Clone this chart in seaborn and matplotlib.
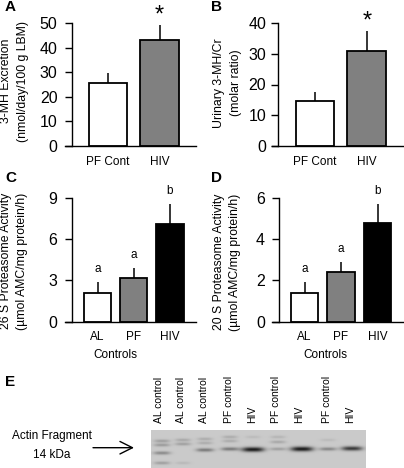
import numpy as np
import pandas as pd
import matplotlib
matplotlib.use("Agg")
import matplotlib.pyplot as plt
import seaborn as sns

W, H = 404, 468

# panel data
cats_ab = ["PF Cont", "HIV"]
cats_cd = ["AL", "PF", "HIV"]
colors_ab = ["white", "#808080"]
colors_cd = ["white", "#808080", "black"]

vals_a = [25.5, 43]
err_a = [4, 6]
vals_b = [14.5, 31]
err_b = [3.2, 6.3]
vals_c = [2.1, 3.2, 7.1]
err_c = [0.75, 0.7, 1.45]
vals_d = [1.4, 2.4, 4.8]
err_d = [0.52, 0.5, 0.9]

ticks_a = [0, 10, 20, 30, 40, 50]
ticks_b = [0, 10, 20, 30, 40]
ticks_c = [0, 3, 6, 9]
ticks_d = [0, 2, 4, 6]

letters_ab = ["", "*"]
letters_cd = ["a", "a", "b"]

# blot data
lane_labels = ["AL control", "AL control", "AL control", "PF control", "HIV",
               "PF control", "HIV", "PF control", "HIV"]
lane_label_px = [159, 181, 204, 229, 252, 276, 299, 327, 350]
lane_px = [162, 183, 205, 230, 253, 278, 302, 328, 352]
band_lane = [0, 0, 0, 0, 1, 1, 1, 2, 2, 2, 3, 3, 3, 4, 4, 5, 5, 5, 6, 7, 7, 8]
band_y = [441, 445, 453, 463, 440, 444, 463, 439, 443, 450, 437, 441, 449, 437,
          449.5, 437, 442, 449, 449, 440, 449, 448.5]
band_dark = [0.2, 0.22, 0.3, 0.2, 0.16, 0.2, 0.08, 0.14, 0.14, 0.38, 0.14, 0.14,
             0.38, 0.07, 0.85, 0.1, 0.16, 0.2, 0.85, 0.07, 0.32, 0.7]

sns.set_theme(style="ticks")
plt.rcParams["font.family"] = ["Liberation Sans", "DejaVu Sans"]

fig = plt.figure(figsize=(W / 100, H / 100), dpi=100, facecolor="white")


def px_axes(x0, y0, x1, y1):
    return fig.add_axes([x0 / W, 1 - y1 / H, (x1 - x0) / W, (y1 - y0) / H])


def px_text(x, y, s, **kw):
    fig.text(x / W, 1 - y / H, s, ha=kw.pop("ha", "center"), va=kw.pop("va", "center"),
             color="black", **kw)


def bar_panel(box, spine_px, centers, cats, vals, errs, colors, ticks, ylabel, label_xy, pad):
    x0, y0, x1, y1 = box
    ax = px_axes(x0, y0, x1, y1)
    df = pd.DataFrame({"group": cats, "value": vals})
    sns.barplot(data=df, x="group", y="value", hue="group", palette=colors, width=0.75,
                edgecolor="black", linewidth=1.3, errorbar=None, legend=False, ax=ax)
    ax.errorbar(range(len(cats)), vals, yerr=[np.zeros(len(errs)), errs], fmt="none",
                ecolor="black", elinewidth=1.1, capsize=0, zorder=1)
    step = centers[1] - centers[0]
    ax.set_xlim((x0 - centers[0]) / step, (x1 - centers[0]) / step)
    ax.set_ylim(0, ticks[-1])
    ax.set_yticks(ticks)
    ax.tick_params(axis="y", length=5, width=1, labelsize=11.5, pad=pad, color="black", labelcolor="black")
    ax.tick_params(axis="x", length=0, labelsize=8.5, pad=7, labelcolor="black")
    for s in ["top", "right"]:
        ax.spines[s].set_visible(False)
    ax.spines["left"].set_position(("axes", (spine_px - x0) / (x1 - x0)))
    ax.spines["left"].set_linewidth(1)
    ax.spines["left"].set_color("black")
    ax.spines["bottom"].set_linewidth(1)
    ax.spines["bottom"].set_color("black")
    ax.patch.set_alpha(0)
    ax.set_xlabel("")
    ax.set_ylabel("")
    px_text(label_xy[0], label_xy[1], ylabel, rotation=90, fontsize=8.8, linespacing=1.5,
            multialignment="center")
    return ax


ax_a = bar_panel((65, 23, 196, 146), 72, [108, 159.5], cats_ab, vals_a, err_a, colors_ab, ticks_a,
                 "3-MH Excretion\n(nmol/day/100 g LBM)", (14.5, 81), 5.5)
ax_b = bar_panel((272, 23, 403, 146), 278, [315, 366.75], cats_ab, vals_b, err_b, colors_ab, ticks_b,
                 "Urinary 3-MH/Cr\n(molar ratio)", (227.5, 83), 3.6)
ax_c = bar_panel((65, 198, 196, 321.5), 72, [97.5, 133.75, 170], cats_cd, vals_c, err_c, colors_cd, ticks_c,
                 "26 S Proteasome Activity\n(µmol AMC/mg protein/h)", (14, 261), 5.5)
ax_d = bar_panel((272, 198, 403, 321.5), 279, [304.5, 341, 377.5], cats_cd, vals_d, err_d, colors_cd, ticks_d,
                 "20 S Proteasome Activity\n(µmol AMC/mg protein/h)", (227, 262), 5)

# significance marks above the error bars
for ax, vals, errs in [(ax_a, vals_a, err_a), (ax_b, vals_b, err_b)]:
    for i, s in enumerate(letters_ab):
        ax.annotate(s, (i, vals[i] + errs[i]), xytext=(0, -1), textcoords="offset points",
                    ha="center", va="bottom", fontsize=17, color="black", annotation_clip=False)
for ax, vals, errs in [(ax_c, vals_c, err_c), (ax_d, vals_d, err_d)]:
    for i, s in enumerate(letters_cd):
        ax.annotate(s, (i, vals[i] + errs[i]), xytext=(0, 9.4), textcoords="offset points",
                    ha="center", va="center", fontsize=8.5, color="black", annotation_clip=False)

for s, x, y in [("A", 10, 7), ("B", 217, 7), ("C", 10.5, 178), ("D", 217, 178), ("E", 10.5, 382)]:
    px_text(x, y, s, fontsize=11, fontweight="bold")

px_text(115, 355, "Controls", fontsize=8.5)
px_text(325, 355, "Controls", fontsize=8.5)

# blot: bands summed on a pixel grid and shown as a grey heatmap
bx0, by0, bx1, by1 = 151, 430, 366, 468
xx, yy = np.meshgrid(np.arange(bx0, bx1) + 0.5, np.arange(by0, by1) + 0.5)
dark = np.zeros_like(xx)
for lane, y, d in zip(band_lane, band_y, band_dark):
    half = 7 + 5 * d
    dark += d * np.exp(-(np.abs(xx - lane_px[lane]) / half) ** 3 - ((yy - y) / (1.4 + 1.2 * d)) ** 2)
blot = 0.79 * (1 - np.clip(dark, 0, 0.95))

ax_e = px_axes(bx0, by0, bx1, by1)
sns.heatmap(blot, cmap="gray", vmin=0, vmax=1, cbar=False, ax=ax_e)
ax_e.xaxis.tick_top()
ax_e.set_xticks([x - bx0 for x in lane_label_px])
ax_e.set_xticklabels(lane_labels, rotation=90, fontsize=7.5, color="black")
ax_e.set_yticks([])
ax_e.tick_params(axis="x", length=0, pad=5)

px_text(52, 436, "Actin Fragment", fontsize=8.5)
px_text(52, 455, "14 kDa", fontsize=8.5)
fig.patches.append(matplotlib.patches.FancyArrowPatch(
    (93 / W, 1 - 447.7 / H), (134 / W, 1 - 447.7 / H), transform=fig.transFigure,
    arrowstyle="->,head_length=6,head_width=3", mutation_scale=1.5, linewidth=1, color="black",
    shrinkA=0, shrinkB=0))

fig.savefig("out.png", dpi=100)
